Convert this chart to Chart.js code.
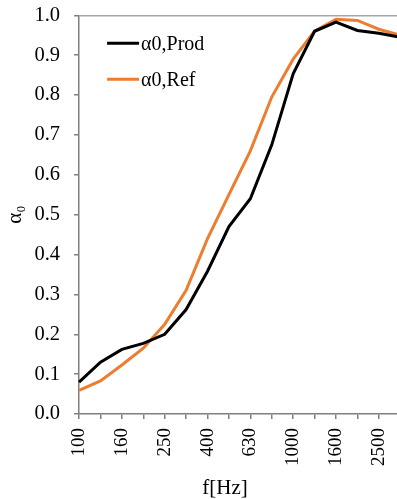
<!DOCTYPE html>
<html><head><meta charset="utf-8">
<script src="https://cdn.jsdelivr.net/npm/chart.js@4"></script>
<style>html,body{margin:0;padding:0;overflow:hidden;background:#fff}#wrap{width:432px;height:510px;position:relative;top:-11px}</style>
</head><body><div id="wrap"><canvas id="c"></canvas></div>
<script>
const frequencies = ['100','125','160','200','250','315','400','500','630','800','1000','1250','1600','2000','2500','3150'];
const prodValues = [0.080,0.130,0.162,0.177,0.200,0.262,0.358,0.470,0.540,0.675,0.853,0.960,0.983,0.962,0.955,0.945];
const refValues  = [0.059,0.083,0.123,0.165,0.225,0.310,0.440,0.550,0.660,0.795,0.890,0.960,0.990,0.987,0.965,0.950];
const seriesNames = ['α0,Prod','α0,Ref'];
const xTitle = 'f[Hz]';
const yTitle = 'α₀';

const FONT = '"Liberation Serif", "Times New Roman", serif';
const AXIS = '#7f7f7f';

const insideLegend = {
  id: 'insideLegend',
  afterDatasetsDraw(chart) {
    const {ctx, chartArea: {left, top}} = chart;
    chart.data.datasets.forEach((ds, i) => {
      const y = top + 28 + i * 36;
      ctx.save();
      ctx.strokeStyle = ds.borderColor; ctx.lineWidth = 3;
      ctx.beginPath(); ctx.moveTo(left + 28, y); ctx.lineTo(left + 60, y); ctx.stroke();
      ctx.fillStyle = '#000'; ctx.font = '20px ' + FONT;
      ctx.textBaseline = 'middle'; ctx.textAlign = 'left';
      ctx.fillText(ds.label, left + 62, y + 1);
      ctx.restore();
    });
  }
};
const bottomTitle = {
  id: 'bottomTitle',
  afterDraw(chart) {
    const {ctx, chartArea: {left, bottom}} = chart;
    ctx.save();
    ctx.fillStyle = '#000'; ctx.font = '21px ' + FONT;
    ctx.textBaseline = 'middle'; ctx.textAlign = 'center';
    ctx.fillText(xTitle, left + 146, bottom + 74);
    ctx.restore();
  }
};

new Chart(document.getElementById('c'), {
  type: 'line',
  data: {
    labels: frequencies,
    datasets: [
      {label: seriesNames[0], data: prodValues, borderColor: '#000000', backgroundColor: '#000000', borderWidth: 3, pointRadius: 0, tension: 0, fill: false},
      {label: seriesNames[1], data: refValues, borderColor: '#ED7D31', backgroundColor: '#ED7D31', borderWidth: 3, pointRadius: 0, tension: 0, fill: false}
    ]
  },
  options: {
    responsive: true, maintainAspectRatio: false, animation: false,
    layout: {padding: {top: -9, right: 0, bottom: 24, left: 0}},
    plugins: {legend: {display: false}, tooltip: {enabled: false}},
    scales: {
      x: {
        offset: false,
        border: {display: true, color: AXIS, width: 1.5},
        grid: {drawOnChartArea: false, drawTicks: true, tickLength: 5, color: AXIS, lineWidth: 1.5},
        ticks: {autoSkip: false, maxRotation: 90, minRotation: 90, padding: 9, color: '#000',
          font: {family: FONT, size: 19},
          callback: function(v, i) { return i % 2 === 0 ? this.getLabelForValue(v) : ''; }}
      },
      y: {
        min: 0, max: 1,
        border: {display: true, color: AXIS, width: 1.5},
        grid: {drawOnChartArea: true, drawTicks: true, tickLength: 5, lineWidth: 1.5,
          color: ctx => (ctx.tick && ctx.tick.value === 1) ? '#a6a6a6' : 'rgba(0,0,0,0)',
          tickColor: AXIS},
        ticks: {stepSize: 0.1, padding: 14, color: '#000', font: {family: FONT, size: 20.5},
          callback: v => v.toFixed(1)},
        title: {display: true, text: yTitle, color: '#000', font: {family: FONT, size: 21, lineHeight: 0.45}, padding: {top: 11, bottom: 0}}
      }
    }
  },
  plugins: [insideLegend, bottomTitle]
});
</script></body></html>
